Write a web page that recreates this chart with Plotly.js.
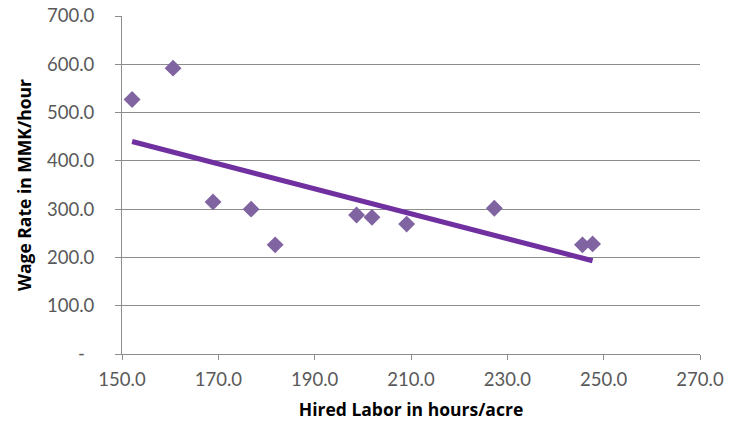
<!DOCTYPE html>
<html>
<head>
<meta charset="utf-8">
<script src="https://cdn.plot.ly/plotly-3.0.1.min.js"></script>
<style>html,body{margin:0;padding:0;background:#fff;}#chart{width:736px;height:421px;}</style>
</head>
<body>
<div id="chart"></div>
<script>
// Hired labor (hours/acre) and wage rate (MMK/hour)
const hiredLabor = [152.1, 160.6, 168.9, 176.8, 181.8, 198.7, 201.9, 209.1, 227.3, 245.6, 247.7];
const wageRate   = [527, 592, 315, 300, 226, 288, 283, 269, 302, 226, 228];

const xTickVals = [150, 170, 190, 210, 230, 250, 270];
const yTickVals = [0, 100, 200, 300, 400, 500, 600, 700];
const yTickText = ['-\u00a0\u00a0', '100.0', '200.0', '300.0', '400.0', '500.0', '600.0', '700.0'];

// Linear least-squares trendline computed from the data
const n = hiredLabor.length;
const mx = hiredLabor.reduce((a, b) => a + b, 0) / n;
const my = wageRate.reduce((a, b) => a + b, 0) / n;
let sxy = 0, sxx = 0;
for (let i = 0; i < n; i++) { sxy += (hiredLabor[i] - mx) * (wageRate[i] - my); sxx += (hiredLabor[i] - mx) ** 2; }
const slope = sxy / sxx, icpt = my - slope * mx;
const xMin = Math.min(...hiredLabor), xMax = Math.max(...hiredLabor);
const trendX = [xMin, xMax];
const trendY = trendX.map(x => icpt + slope * x);

const FONT = 'Lato, "Open Sans", sans-serif';
const TFONT = '"Open Sans", Lato, sans-serif';
const traces = [
  { x: hiredLabor, y: wageRate, type: 'scatter', mode: 'markers',
    marker: { symbol: 'diamond', size: 13, color: '#8064A2' }, cliponaxis: false },
  { x: trendX, y: trendY, type: 'scatter', mode: 'lines',
    line: { color: '#7030A0', width: 5 } }
];

const layout = {
  width: 736, height: 421,
  margin: { l: 122, r: 36, t: 16, b: 67 },
  paper_bgcolor: '#fff', plot_bgcolor: '#fff',
  showlegend: false,
  font: { family: FONT, size: 18, color: '#595959' },
  xaxis: {
    range: [150, 270], tickvals: xTickVals, tickformat: '.1f',
    showgrid: false, zeroline: false,
    showline: true, linecolor: '#8c8c8c', linewidth: 1,
    ticks: 'outside', ticklen: 5, tickcolor: '#8c8c8c',
    ticklabelstandoff: 4,
    tickfont: { family: FONT, size: 18.5, color: '#595959' },
    title: { text: 'Hired Labor in hours/acre', standoff: 17,
             font: { family: TFONT, size: 17.5, color: '#000', weight: 'bold' } }
  },
  yaxis: {
    range: [0, 700], tickvals: yTickVals, ticktext: yTickText,
    showgrid: true, gridcolor: '#8c8c8c', gridwidth: 1, zeroline: false,
    showline: true, linecolor: '#8c8c8c', linewidth: 1,
    ticks: 'outside', ticklen: 6, tickcolor: '#8c8c8c',
    ticklabelstandoff: 17,
    tickfont: { family: FONT, size: 18.5, color: '#595959' },
    title: { text: 'Wage Rate in MMK/hour', standoff: 10,
             font: { family: TFONT, size: 17.5, color: '#000', weight: 'bold' } }
  }
};

Plotly.newPlot('chart', traces, layout, { displayModeBar: false, staticPlot: true });
</script>
</body>
</html>
